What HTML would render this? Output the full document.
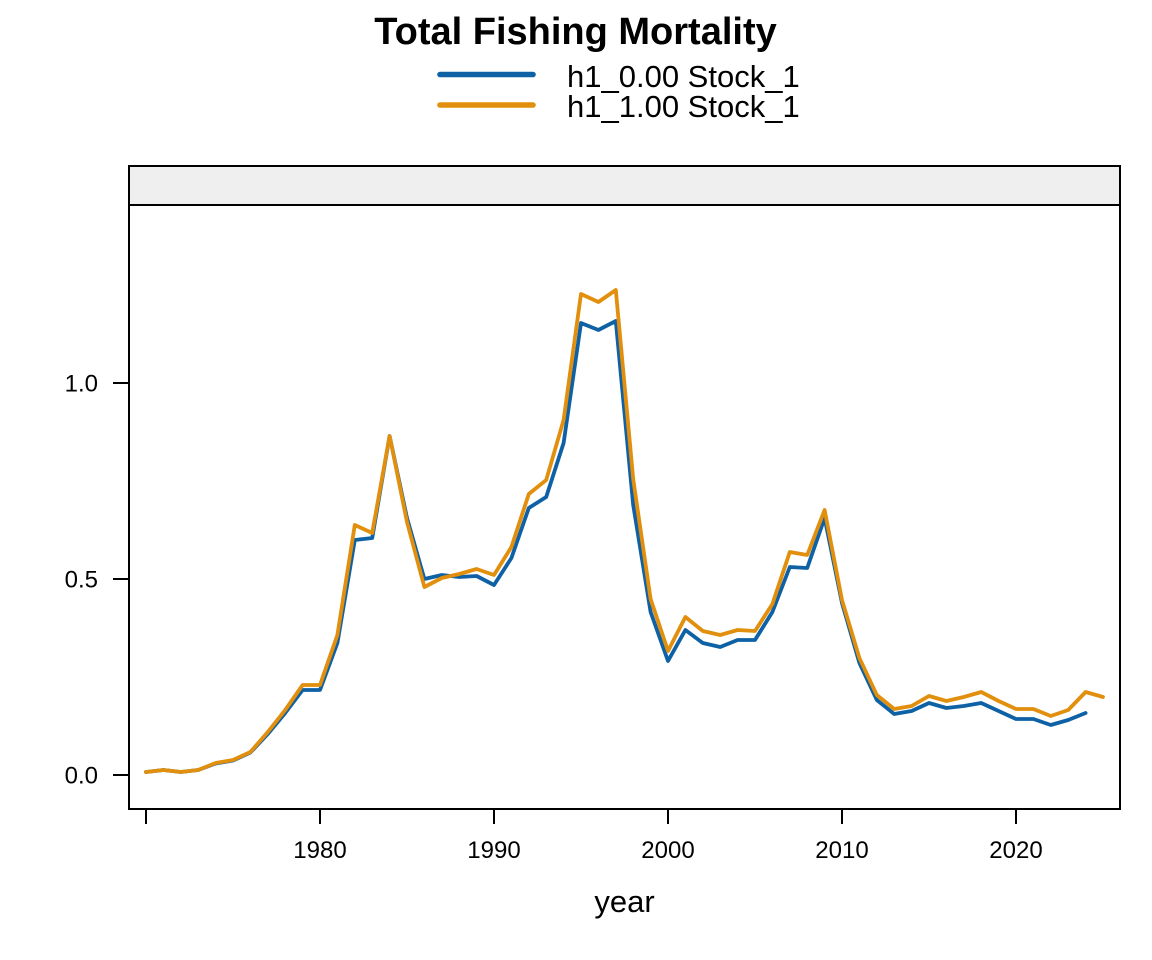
<!DOCTYPE html>
<html>
<head>
<meta charset="utf-8">
<style>
  html, body { margin: 0; padding: 0; background: #ffffff; }
  svg { display: block; }
  text { font-family: "Liberation Sans", Arial, Helvetica, sans-serif; fill: #000; }
</style>
</head>
<body>
<svg width="1152" height="960" viewBox="0 0 1152 960" xmlns="http://www.w3.org/2000/svg">
  <rect x="0" y="0" width="1152" height="960" fill="#ffffff"/>

  <!-- Title -->
  <text x="575.5" y="44" font-size="38" font-weight="bold" text-anchor="middle">Total Fishing Mortality</text>

  <!-- Legend -->
  <line x1="440" y1="74.5" x2="533" y2="74.5" stroke="#0F61A6" stroke-width="5.6" stroke-linecap="round"/>
  <line x1="440" y1="105" x2="533" y2="105" stroke="#E18F0C" stroke-width="5.6" stroke-linecap="round"/>
  <text x="567" y="87" font-size="31">h1_0.00 Stock_1</text>
  <text x="567" y="117" font-size="31">h1_1.00 Stock_1</text>

  <!-- Strip -->
  <rect x="129" y="166" width="991" height="39" fill="#EFEFEF" stroke="#000" stroke-width="2"/>

  <!-- Panel -->
  <rect x="129" y="205" width="991" height="604" fill="none" stroke="#000" stroke-width="2"/>

  <!-- Y ticks -->
  <g stroke="#000" stroke-width="2">
    <line x1="113" y1="775" x2="129" y2="775"/>
    <line x1="113" y1="579" x2="129" y2="579"/>
    <line x1="113" y1="383" x2="129" y2="383"/>
  </g>
  <g font-size="24" text-anchor="end">
    <text x="98" y="783.5">0.0</text>
    <text x="98" y="587.5">0.5</text>
    <text x="98" y="391.5">1.0</text>
  </g>

  <!-- X ticks -->
  <g stroke="#000" stroke-width="2">
    <line x1="146" y1="809" x2="146" y2="824"/>
    <line x1="320" y1="809" x2="320" y2="824"/>
    <line x1="494" y1="809" x2="494" y2="824"/>
    <line x1="668" y1="809" x2="668" y2="824"/>
    <line x1="842" y1="809" x2="842" y2="824"/>
    <line x1="1016" y1="809" x2="1016" y2="824"/>
  </g>
  <g font-size="24" text-anchor="middle">
    <text x="320" y="858">1980</text>
    <text x="494" y="858">1990</text>
    <text x="668" y="858">2000</text>
    <text x="842" y="858">2010</text>
    <text x="1016" y="858">2020</text>
  </g>

  <!-- Axis label -->
  <text x="624.5" y="912" font-size="31" text-anchor="middle">year</text>

  <!-- Series: blue (h1_0.00) -->
  <polyline fill="none" stroke="#0F61A6" stroke-width="3.8" stroke-linejoin="round" stroke-linecap="round"
    points="146,772 163.4,770 180.8,772 198.2,770 215.6,763.5 233,760.5 250.4,752.5 267.8,734 285.2,713 302.6,690 320,690 337.4,643 354.8,540 372.2,538 389.6,436 407,518 424.4,579 441.8,575 459.2,577 476.6,576 494,585 511.4,558 528.8,508 546.2,497 563.6,443 581,323 598.4,330 615.8,321 633.2,505 650.6,612 668,661 685.4,630 702.8,643 720.2,647 737.6,640 755,640 772.4,612 789.8,567 807.2,568 824.6,518 842,603 859.4,663 876.8,700 894.2,714 911.6,711 929,703 946.4,708 963.8,706 981.2,703 998.6,711 1016,719 1033.4,719 1050.8,725 1068.2,720 1085.6,713"/>

  <!-- Series: orange (h1_1.00) -->
  <polyline fill="none" stroke="#E18F0C" stroke-width="3.8" stroke-linejoin="round" stroke-linecap="round"
    points="146,772 163.4,770 180.8,772 198.2,770 215.6,763 233,760 250.4,752 267.8,732 285.2,710 302.6,685 320,685 337.4,635 354.8,525 372.2,533 389.6,436 407,522 424.4,587 441.8,578 459.2,574 476.6,569 494,575 511.4,547 528.8,494 546.2,480 563.6,420 581,294 598.4,302 615.8,290 633.2,479 650.6,599 668,651 685.4,617 702.8,631 720.2,635 737.6,630 755,631 772.4,604 789.8,552 807.2,555 824.6,510 842,600 859.4,658 876.8,695 894.2,709 911.6,706 929,696 946.4,701 963.8,697 981.2,692 998.6,701 1016,709 1033.4,709 1050.8,716 1068.2,710 1085.6,692 1103,697"/>
</svg>
</body>
</html>
